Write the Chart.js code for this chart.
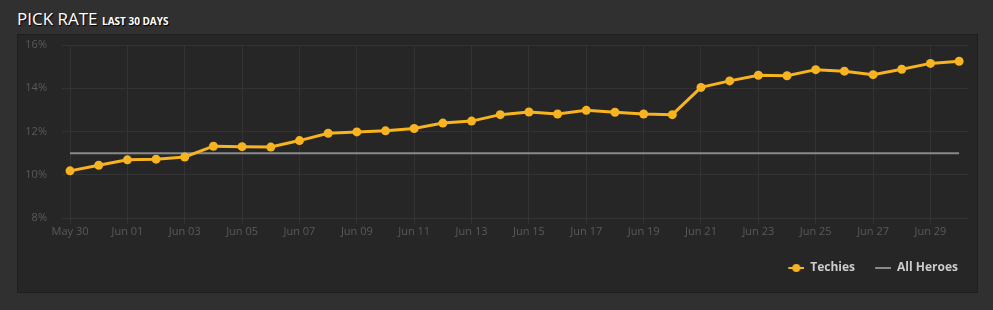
<!DOCTYPE html>
<html>
<head>
<meta charset="utf-8">
<script src="https://cdn.jsdelivr.net/npm/chart.js@4.4.0/dist/chart.umd.min.js"></script>
<style>
    body {
        margin: 0;
        width: 993px;
        height: 310px;
        background: #303030;
        position: relative;
        overflow: hidden;
        font-family: "Open Sans", sans-serif;
    }
    #title {
        position: absolute;
        left: 17px;
        top: 7px;
        color: #fff;
        font-size: 17px;
        text-shadow: 1px 1px 1px #000;
        white-space: nowrap;
    }
    #title small {
        font-size: 10px;
        font-weight: bold;
    }
    #panel {
        position: absolute;
        left: 18px;
        top: 35px;
        width: 959px;
        height: 257px;
        background: #262626;
        box-shadow: 0 0 0 1px #1e1e1e;
    }
    canvas {
        position: absolute;
        left: 0;
        top: 0;
    }
</style>
</head>
<body>
<div id="title">PICK RATE <small>LAST 30 DAYS</small></div>
<div id="panel"><canvas id="graphic-pickRate" width="959" height="257"></canvas></div>
<script>
const days = ['May 30', 'May 31', 'Jun 01', 'Jun 02', 'Jun 03', 'Jun 04', 'Jun 05', 'Jun 06', 'Jun 07', 'Jun 08',
    'Jun 09', 'Jun 10', 'Jun 11', 'Jun 12', 'Jun 13', 'Jun 14', 'Jun 15', 'Jun 16', 'Jun 17', 'Jun 18',
    'Jun 19', 'Jun 20', 'Jun 21', 'Jun 22', 'Jun 23', 'Jun 24', 'Jun 25', 'Jun 26', 'Jun 27', 'Jun 28',
    'Jun 29', 'Jun 30'];
const techies = [10.18, 10.44, 10.69, 10.72, 10.82, 11.32, 11.30, 11.28, 11.58, 11.92,
    11.98, 12.03, 12.14, 12.39, 12.48, 12.78, 12.90, 12.81, 12.98, 12.89,
    12.81, 12.78, 14.04, 14.34, 14.60, 14.58, 14.86, 14.79, 14.63, 14.88,
    15.15, 15.25];
const allHeroes = [11.0, 11.0, 11.0, 11.0, 11.0, 11.0, 11.0, 11.0, 11.0, 11.0,
    11.0, 11.0, 11.0, 11.0, 11.0, 11.0, 11.0, 11.0, 11.0, 11.0,
    11.0, 11.0, 11.0, 11.0, 11.0, 11.0, 11.0, 11.0, 11.0, 11.0,
    11.0, 11.0];
const yTicks = [8, 10, 12, 14, 16];

const orange = '#f7b320';

// marcador da legenda: linha com ponto no meio (10px de folga à esquerda)
function lineMarker(color, withDot) {
    const c = document.createElement('canvas');
    c.width = 26;
    c.height = 10;
    const ctx = c.getContext('2d');
    ctx.fillStyle = color;
    ctx.fillRect(10, 4, 16, 2);
    if (withDot) {
        ctx.beginPath();
        ctx.arc(18, 5, 4, 0, Math.PI * 2);
        ctx.fill();
    }
    return c;
}

const toPoints = arr => arr.map((v, i) => ({ x: i, y: v }));

const ctxPick = document.getElementById('graphic-pickRate');

var chartPick = new Chart(ctxPick, {
    type: 'line',
    data: {
        datasets: [
            {
                label: 'Techies',
                data: toPoints(techies),
                borderWidth: 3,
                borderColor: orange,
                backgroundColor: orange,
                pointRadius: 4.5,
                pointBorderWidth: 0,
                pointStyle: 'circle'
            },
            {
                label: 'All Heroes',
                data: toPoints(allHeroes),
                borderWidth: 2,
                borderColor: '#8a8a8a',
                backgroundColor: '#8a8a8a',
                pointRadius: 0
            }
        ]
    },
    options: {
        responsive: false,
        maintainAspectRatio: false,
        animation: false,
        layout: {
            padding: { top: 10, right: 9, bottom: 8, left: 0 }
        },
        scales: {
            x: {
                type: 'linear',
                min: -0.28,
                max: 31.31,
                afterBuildTicks: s => {
                    s.ticks = days.map((d, i) => ({ value: i })).filter(t => t.value % 2 === 0);
                },
                afterFit: s => { s.height = 34; },
                border: { display: false },
                grid: {
                    color: '#333333',
                    tickLength: 6,
                    tickColor: '#333333'
                },
                ticks: {
                    color: '#5a5a5a',
                    font: { family: 'Open Sans', size: 11 },
                    padding: 1,
                    maxRotation: 0,
                    autoSkip: false,
                    callback: v => days[v]
                }
            },
            y: {
                min: 8,
                max: 16,
                afterBuildTicks: s => {
                    s.ticks = yTicks.map(v => ({ value: v }));
                },
                afterFit: s => { s.width = 44; },
                border: { display: false },
                grid: {
                    color: '#333333',
                    tickLength: 15,
                    tickColor: 'rgba(0,0,0,0)'
                },
                ticks: {
                    color: '#5a5a5a',
                    font: { family: 'Open Sans', size: 11 },
                    padding: 0,
                    callback: v => v + '%'
                }
            }
        },
        plugins: {
            legend: {
                position: 'bottom',
                align: 'end',
                labels: {
                    usePointStyle: true,
                    pointStyleWidth: 26,
                    color: '#cccccc',
                    padding: 10,
                    font: { family: 'Open Sans', size: 12, weight: 'bold' },
                    generateLabels: chart => chart.data.datasets.map((ds, i) => ({
                        text: ds.label,
                        fontColor: '#cccccc',
                        datasetIndex: i,
                        lineWidth: 0,
                        pointStyle: lineMarker(ds.borderColor, i === 0)
                    }))
                }
            },
            tooltip: { enabled: false }
        }
    }
});
</script>
</body>
</html>
